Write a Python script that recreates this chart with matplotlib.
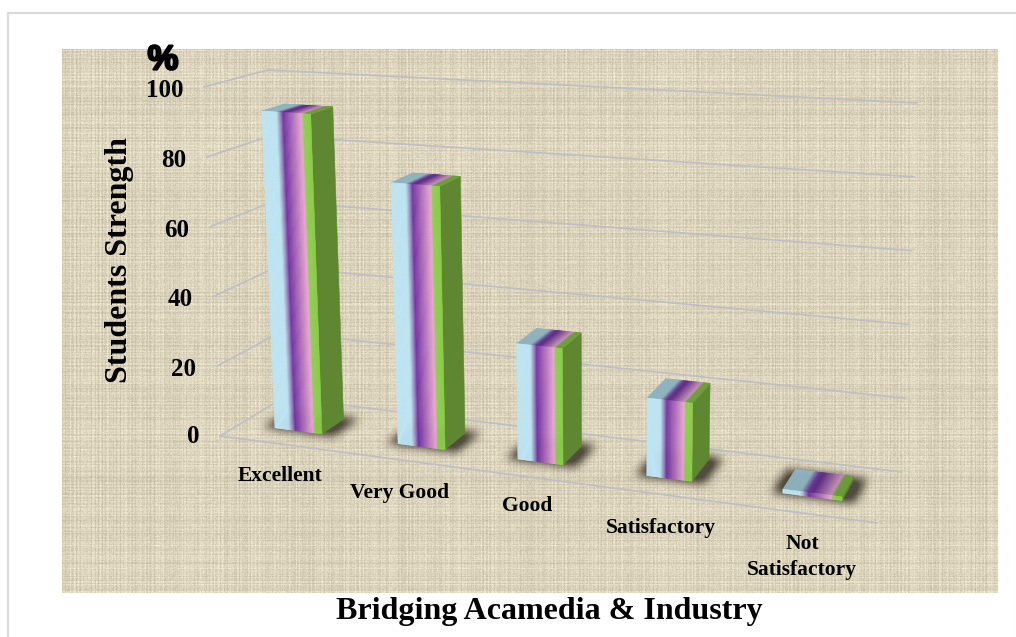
import numpy as np
import matplotlib
matplotlib.use("Agg")
import matplotlib.pyplot as plt
import matplotlib.patheffects as pe
from matplotlib.colors import LinearSegmentedColormap
from matplotlib.path import Path

categories = ["Excellent", "Very Good", "Good", "Satisfactory", "Not\nSatisfactory"]
values = [92, 74, 32, 21, 1]
y_ticks = [0, 20, 40, 60, 80, 100]
y_title = "Students Strength"
x_title = "Bridging Acamedia & Industry"

W, H = 1016, 637

# screen corners of the fake 3d box (front/back, left/right, floor/top)
F0L, F0R = np.array([220.0, 436.0]), np.array([877.0, 523.0])
B0L, B0R = np.array([283.0, 398.0]), np.array([902.0, 472.0])
F1L, F1R = np.array([204.0, 87.0]), np.array([886.0, 130.0])
B1L, B1R = np.array([268.0, 70.0]), np.array([917.0, 103.0])

# bars were not evenly placed in the original
bar_starts = [0.053, 0.244, 0.43, 0.63, 0.841]
bar_widths = [0.073, 0.073, 0.07, 0.07, 0.092]
bar_backs = [0.70, 0.72, 0.75, 0.80, 0.74]
depth0 = 0.33

label_xy = [(280, 476), (400, 493), (527, 506), (661, 528), (802, 557)]

front_cm = LinearSegmentedColormap.from_list("front", [
    (0.0, "#BEE5F4"), (0.30, "#BEE5F4"), (0.38, "#9C8CC4"), (0.44, "#7433A4"),
    (0.60, "#A766B8"), (0.82, "#EBA9D2"), (0.85, "#8FD050"), (1.0, "#8ACB4A")])
top_cm = LinearSegmentedColormap.from_list("top", [
    (0.0, "#8FB3BF"), (0.30, "#8FB3BF"), (0.42, "#6A3A96"), (0.50, "#5F2A86"),
    (0.82, "#C392B4"), (0.87, "#6E9E3A"), (1.0, "#6E9E3A")])
side_color = "#5F8732"
grid_color = "#BDBFC4"


def proj(u, d, v):
    # u along the categories, d into the picture, v value 0-100
    f = v / 100.0
    front0 = F0L + (F0R - F0L) * u
    back0 = B0L + (B0R - B0L) * u
    front1 = F1L + (F1R - F1L) * u
    back1 = B1L + (B1R - B1L) * u
    low = front0 + (back0 - front0) * d
    high = front1 + (back1 - front1) * d
    return low + (high - low) * f


def make_texture(h, w):
    # woven sacking look, no data in here
    yy, xx = np.mgrid[0:h, 0:w]
    row = np.modf(np.abs(np.sin(np.arange(h) * 12.9898) * 43758.5453))[0] - 0.5
    col = np.modf(np.abs(np.sin(np.arange(w) * 78.233) * 24634.6345))[0] - 0.5
    cell = np.modf(np.abs(np.sin(xx * 12.9898 + yy * 78.233) * 43758.5453))[0] - 0.5
    weave = np.sin(2 * np.pi * yy / 3.3) + np.sin(2 * np.pi * xx / 3.7)
    tex = 16 * row[yy] + 16 * col[xx] + 18 * cell + 4 * weave
    base = np.array([220.0, 211.0, 188.0])
    rgb = base[None, None, :] + tex[:, :, None]
    return np.clip(rgb, 0, 255).astype(np.uint8)


def blur(img, r):
    kernel = np.ones(2 * r + 1) / (2 * r + 1)
    for _ in range(3):
        img = np.apply_along_axis(lambda m: np.convolve(m, kernel, mode="same"), 0, img)
        img = np.apply_along_axis(lambda m: np.convolve(m, kernel, mode="same"), 1, img)
    return img


def strips(ax, cm, get_quad, n=44, z=5):
    for k in range(n):
        t0, t1 = k / n, (k + 1) / n
        color = cm((t0 + t1) / 2)
        ax.fill(*zip(*get_quad(t0, t1)), color=color, lw=0.4, zorder=z)


fig = plt.figure(figsize=(W / 100, H / 100), dpi=100)
ax = fig.add_axes([0, 0, 1, 1])
ax.set_xlim(0, W)
ax.set_ylim(H, 0)
ax.axis("off")

# outer frame
ax.plot([7.5, 7.5, W], [H, 12.5, 12.5], color="#DADADA", lw=1.6, zorder=0)
ax.plot([W - 0.5, W - 0.5], [12.5, H], color="#EDEDED", lw=0.8, zorder=0)

ax.imshow(make_texture(544, 936), extent=(62, 998, 593, 49), aspect="auto",
          interpolation="bilinear", zorder=1)
ax.set_xlim(0, W)
ax.set_ylim(H, 0)

# gridlines on the left and back walls and the floor edge
for tick in y_ticks:
    pts = np.array([proj(0, 0, tick), proj(0, 1, tick), proj(1, 1, tick)])
    ax.plot(pts[:, 0], pts[:, 1], color=grid_color, lw=1.2, zorder=2)
pts = np.array([proj(0, 0, 0), proj(1, 0, 0)])
ax.plot(pts[:, 0], pts[:, 1], color=grid_color, lw=1.2, zorder=2)

# soft shadows on the floor
yy, xx = np.mgrid[0:H, 0:W]
grid_pts = np.column_stack([xx.ravel() + 0.5, yy.ravel() + 0.5])
shadow = np.zeros((H, W))
for u0, bw, back in zip(bar_starts, bar_widths, bar_backs):
    quad = [proj(u0 - 0.016, depth0 - 0.02, 0), proj(u0 + bw + 0.02, depth0 - 0.02, 0),
            proj(u0 + bw + 0.02, back + 0.05, 0), proj(u0 - 0.016, back + 0.05, 0)]
    shadow += Path(quad).contains_points(grid_pts).reshape(H, W)
shadow = blur(np.clip(shadow, 0, 1), 4)
shadow_img = np.zeros((H, W, 4))
shadow_img[:, :, 0:3] = np.array([0.25, 0.23, 0.18])
shadow_img[:, :, 3] = np.clip(shadow * 1.05, 0, 0.88)
ax.imshow(shadow_img, extent=(0, W, H, 0), aspect="auto", zorder=3)
ax.set_xlim(0, W)
ax.set_ylim(H, 0)

# bars, gradient faces built out of thin strips
for u0, bw, back, val in zip(bar_starts, bar_widths, bar_backs, values):
    u1 = u0 + bw
    side = [proj(u1, depth0, 0), proj(u1, back, 0), proj(u1, back, val), proj(u1, depth0, val)]
    ax.fill(*zip(*side), color=side_color, lw=0.4, zorder=5)
    strips(ax, top_cm, lambda a, b: [
        proj(u0 + bw * a, depth0, val), proj(u0 + bw * b, depth0, val),
        proj(u0 + bw * b, back, val), proj(u0 + bw * a, back, val)])
    strips(ax, front_cm, lambda a, b: [
        proj(u0 + bw * a, depth0, 0), proj(u0 + bw * b, depth0, 0),
        proj(u0 + bw * b, depth0, val), proj(u0 + bw * a, depth0, val)], z=6)

serif = ["Liberation Serif", "DejaVu Serif"]

for tick in y_ticks:
    x, y = proj(0, 0, tick)
    ax.text(x - 21, y + (3.5 if tick > 0 else 0.5), str(tick), ha="right", va="center",
            family=serif, fontweight="bold", fontsize=18, color="black", zorder=8)

ax.text(163, 60, "%", ha="center", va="center", family=["Liberation Sans", "DejaVu Sans"],
        fontweight="bold", fontsize=25, color="black", zorder=8,
        path_effects=[pe.withStroke(linewidth=1.6, foreground="black")])
ax.text(119, 260.5, y_title, rotation=90, ha="center", va="center", family=serif,
        fontweight="bold", fontsize=23, color="black", zorder=8)

for name, (x, y) in zip(categories, label_xy):
    ax.text(x, y, name, ha="center", va="center", family=serif, fontweight="bold",
            fontsize=15.5, color="black", linespacing=1.4, zorder=8)

ax.text(549, 611, x_title, ha="center", va="center", family=serif, fontweight="bold",
        fontsize=23, color="black", zorder=8)

fig.savefig("out.png", dpi=100)
